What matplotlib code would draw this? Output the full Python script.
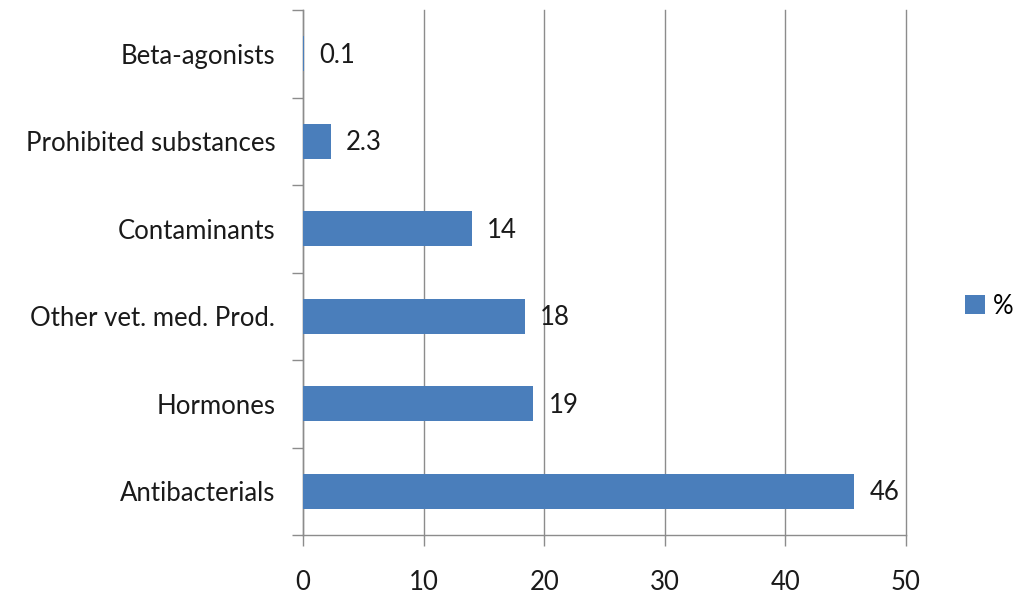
import matplotlib
matplotlib.use("Agg")
import matplotlib.pyplot as plt
import numpy as np

categories = ["Antibacterials", "Hormones", "Other vet. med. Prod.", "Contaminants",
              "Prohibited substances", "Beta-agonists"]
values = [45.7, 19.1, 18.4, 14.0, 2.3, 0.1]
value_labels = ["46", "19", "18", "14", "2.3", "0.1"]
x_ticks = [0, 10, 20, 30, 40, 50]
series_name = "%"

plt.rcParams['font.family'] = ['Lato', 'DejaVu Sans']

fig = plt.figure(figsize=(10.19, 6.0), dpi=100)
ax = fig.add_axes([303/1019, 65/600, 603/1019, 525/600])

bar_color = "#4A7EBB"
grid_color = "#8C8C8C"
text_color = "#1a1a1a"
fs = 18.5
ypos = np.arange(len(categories))
bars = ax.barh(ypos, values, height=0.4, color=bar_color, label=series_name, zorder=3)

for y, v, lab in zip(ypos, values, value_labels):
    ax.annotate(lab, xy=(v, y), xytext=(11, -1), textcoords="offset points",
                ha="left", va="center", fontsize=fs, color=text_color)

ax.set_xlim(0, 50)
ax.set_ylim(-0.5, len(categories) - 0.5)
ax.set_xticks(x_ticks)
ax.set_xticklabels([str(t) for t in x_ticks], fontsize=fs, color=text_color)
ax.xaxis.grid(True, color=grid_color, linewidth=1.0, zorder=0)
for gl in ax.get_xgridlines():
    gl.set_clip_on(False)
ax.tick_params(axis="x", length=8, width=1, color=grid_color, pad=17, direction="out")

ax.set_yticks(np.arange(-0.5, len(categories), 1.0))
ax.set_yticklabels([])
ax.tick_params(axis="y", which="major", length=8, width=1, color=grid_color, direction="out")
ax.set_yticks(ypos, minor=True)
ax.set_yticklabels(categories, minor=True, fontsize=fs, color=text_color)
ax.tick_params(axis="y", which="minor", length=0, pad=20)

for s in ["top", "right"]:
    ax.spines[s].set_visible(False)
for s in ["left", "bottom"]:
    ax.spines[s].set_color(grid_color)
    ax.spines[s].set_linewidth(1.0)

fig.legend(handles=[bars], labels=[series_name], loc="center right",
           bbox_to_anchor=(1013/1019, 1 - 306/600), frameon=False, fontsize=fs,
           handlelength=0.75, handleheight=0.75, handletextpad=0.3,
           borderpad=0, borderaxespad=0)

fig.savefig("out.png", dpi=100)
